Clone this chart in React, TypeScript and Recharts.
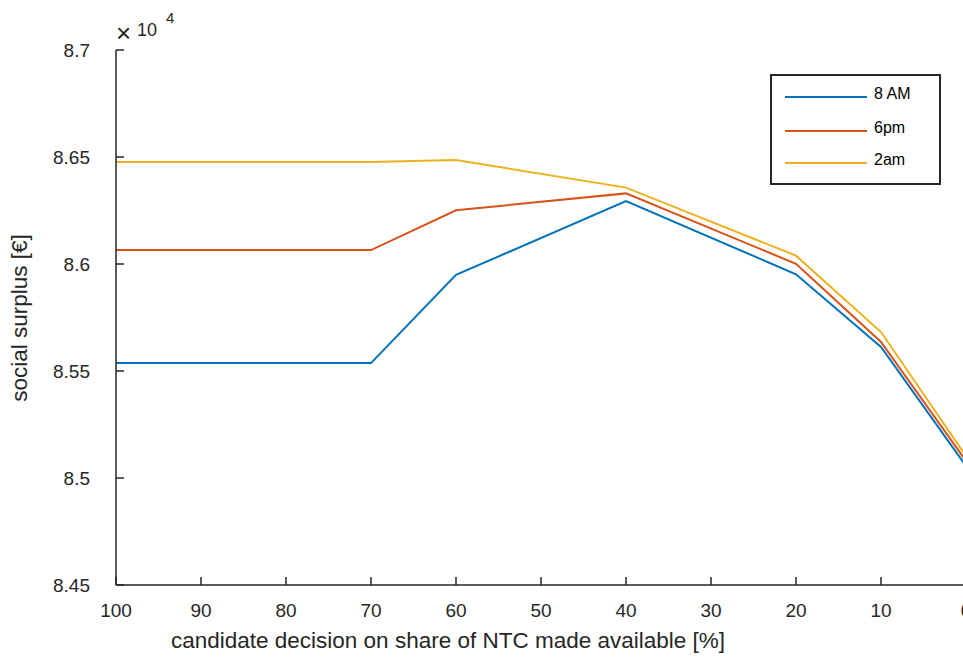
import React from "react";
import { LineChart, Line, XAxis, YAxis, Label } from "recharts";

// share of NTC made available [%]
const shares = [100, 70, 60, 40, 20, 10, 0];
// social surplus [€] per snapshot
const surplus8am = [85537, 85537, 85949, 86294, 85952, 85612, 85056];
const surplus6pm = [86065, 86065, 86251, 86330, 86001, 85636, 85080];
const surplus2am = [86477, 86477, 86486, 86357, 86039, 85682, 85102];

const xTicks = [100, 90, 80, 70, 60, 50, 40, 30, 20, 10, 0];
const yTicks = [84500, 85000, 85500, 86000, 86500, 87000];

const series = [
  { key: "am8", name: "8 AM", color: "#0072BD" },
  { key: "pm6", name: "6pm", color: "#D95319" },
  { key: "am2", name: "2am", color: "#EDB120" },
];

const data = shares.map((s, i) => ({
  share: s,
  am8: surplus8am[i],
  pm6: surplus6pm[i],
  am2: surplus2am[i],
}));

const AXIS = "#262626";
const FONT = "'Liberation Sans', Arial, Helvetica, sans-serif";

const BottomTick = (props: any) => {
  const { x, y, payload } = props;
  const axisY = y - 32;
  return (
    <g>
      <line x1={x} x2={x} y1={axisY} y2={axisY - 8} stroke={AXIS} strokeWidth={1.5} />
      <text x={x} y={y} textAnchor="middle" fill={AXIS} fontSize={19} fontFamily={FONT}>
        {payload.value}
      </text>
    </g>
  );
};

const TopTick = (props: any) => {
  const { x, y } = props;
  return <line x1={x} x2={x} y1={y} y2={y + 8} stroke={AXIS} strokeWidth={1.5} />;
};

const LeftTick = (props: any) => {
  const { x, y, payload } = props;
  const axisX = x + 26;
  return (
    <g>
      <line x1={axisX} x2={axisX + 8} y1={y} y2={y} stroke={AXIS} strokeWidth={1.5} />
      <text x={x} y={y} dy={6.5} textAnchor="end" fill={AXIS} fontSize={19} fontFamily={FONT}>
        {String(payload.value / 10000)}
      </text>
    </g>
  );
};

const RightTick = (props: any) => {
  const { x, y } = props;
  return <line x1={x} x2={x - 8} y1={y} y2={y} stroke={AXIS} strokeWidth={1.5} />;
};

const LegendBox = () => (
  <div
    style={{
      position: "absolute",
      left: 770,
      top: 74,
      width: 167,
      height: 107,
      border: `2px solid ${AXIS}`,
      background: "#fff",
      fontFamily: FONT,
      fontSize: 16,
      color: "#000",
    }}
  >
    {series.map((s, i) => (
      <div
        key={s.key}
        style={{ position: "absolute", left: 13, top: 10 + [0, 34, 66][i], height: 20, width: 150 }}
      >
        <div style={{ position: "absolute", left: 0, top: 10, width: 82, height: 2, background: s.color }} />
        <span style={{ position: "absolute", left: 89, top: -2, lineHeight: "20px" }}>{s.name}</span>
      </div>
    ))}
  </div>
);

export default function App() {
  return (
    <div style={{ position: "fixed", left: 0, top: 0, width: 963, height: 659, overflow: "hidden", background: "#fff" }}>
      <LineChart width={1010} height={659} data={data} margin={{ top: 50, right: 44, left: 0, bottom: 0 }}>
        <XAxis
          xAxisId="bottom"
          dataKey="share"
          type="number"
          domain={[0, 100]}
          reversed
          ticks={xTicks}
          interval={0}
          height={74}
          tickSize={0}
          tickMargin={32}
          tickLine={false}
          axisLine={{ stroke: AXIS, strokeWidth: 1.5 }}
          tick={<BottomTick />}
        >
          <Label
            content={() => (
              <text x={448} y={648} textAnchor="middle" fill={AXIS} fontSize={22.5} fontFamily={FONT}>
                candidate decision on share of NTC made available [%]
              </text>
            )}
          />
        </XAxis>
        <XAxis
          xAxisId="top"
          orientation="top"
          type="number"
          dataKey="share"
          domain={[0, 100]}
          allowDataOverflow
          reversed
          ticks={xTicks}
          interval={0}
          height={0}
          tickSize={0}
          tickMargin={0}
          tickLine={false}
          axisLine={{ stroke: AXIS, strokeWidth: 1.5 }}
          tick={<TopTick />}
        />
        <YAxis
          yAxisId="left"
          type="number"
          domain={[84500, 87000]}
          allowDataOverflow
          ticks={yTicks}
          interval={0}
          width={116}
          tickSize={0}
          tickMargin={26}
          tickLine={false}
          axisLine={{ stroke: AXIS, strokeWidth: 1.5 }}
          tick={<LeftTick />}
        >
          <Label
            content={() => (
              <text
                x={0}
                y={0}
                transform="translate(27 318) rotate(-90)"
                textAnchor="middle"
                fill={AXIS}
                fontSize={22.5}
                fontFamily={FONT}
              >
                social surplus [€]
              </text>
            )}
          />
        </YAxis>
        <YAxis
          yAxisId="right"
          orientation="right"
          type="number"
          domain={[84500, 87000]}
          allowDataOverflow
          ticks={yTicks}
          interval={0}
          width={0}
          tickSize={0}
          tickMargin={0}
          tickLine={false}
          axisLine={{ stroke: AXIS, strokeWidth: 1.5 }}
          tick={<RightTick />}
        />
        {series.map((s) => (
          <Line
            key={s.key}
            xAxisId="bottom"
            yAxisId="left"
            dataKey={s.key}
            name={s.name}
            type="linear"
            stroke={s.color}
            strokeWidth={2}
            dot={false}
            activeDot={false}
            isAnimationActive={false}
          />
        ))}
      </LineChart>
      <LegendBox />
      <div style={{ position: "absolute", left: 116, top: 14, fontFamily: FONT, color: AXIS, whiteSpace: "nowrap" }}>
        <span style={{ fontSize: 26, fontWeight: 300, position: "absolute", left: 0, top: 6, lineHeight: "26px" }}>×</span>
        <span style={{ fontSize: 18, position: "absolute", left: 21, top: 6, lineHeight: "20px" }}>10</span>
        <span style={{ fontSize: 15, position: "absolute", left: 50, top: -6, lineHeight: "20px" }}>4</span>
      </div>
    </div>
  );
}
